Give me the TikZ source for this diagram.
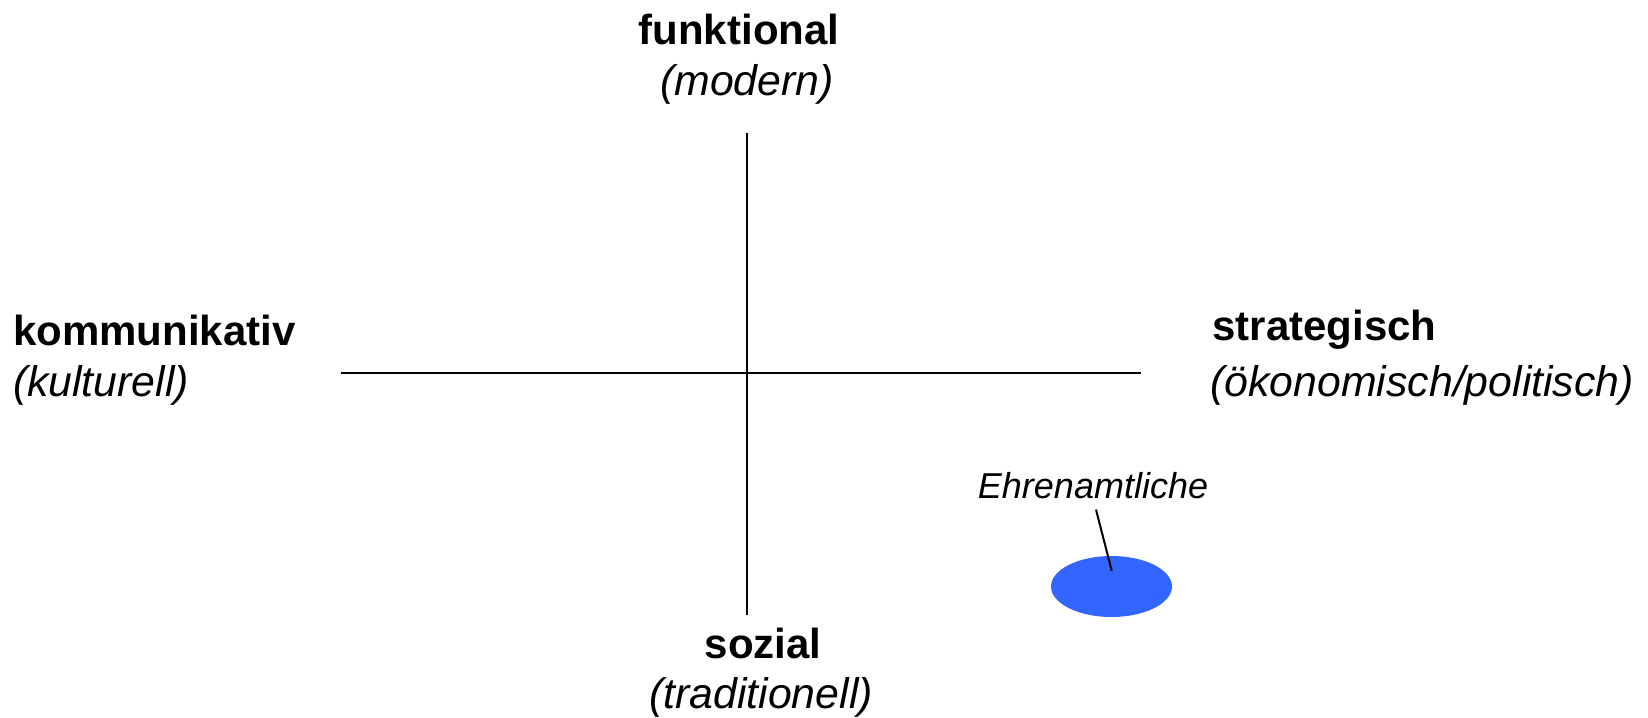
\documentclass[tikz,border=0pt]{standalone}
\usepackage{fontspec}
\setmainfont{Liberation Sans}
\usetikzlibrary{shapes}
\usetikzlibrary{positioning}
\definecolor{patchblue}{HTML}{3366FF}
\tikzstyle{pole} = [inner sep=0pt, font=\fontsize{21}{25}\selectfont\bfseries]
\tikzstyle{sub} = [inner sep=0pt, font=\fontsize{21.4}{25}\selectfont\itshape]
\tikzstyle{tag} = [inner sep=0pt, font=\fontsize{18}{22}\selectfont\itshape]
\tikzstyle{axis} = [line width=1pt, draw=black]
\tikzstyle{group} = [ellipse, fill=patchblue, draw=none, minimum width=60.5pt,
minimum height=30.5pt, inner sep=0pt]
\begin{document}
\begin{tikzpicture}[x=0.5pt,y=-0.5pt]
				\useasboundingbox (0,0) rectangle (1648,717);
				% axes
				\coordinate (n) at (747,133.5);
				\coordinate (s) at (747,615);
				\coordinate (w) at (340.5,373);
				\coordinate (e) at (1141,373);
				\draw[axis] (n) -- (s);
				\draw[axis] (w) -- (e);

				\node[pole] (fn) at (739,29.5) {funktional}; %
				\node[sub] (fna) at (747,84) {(modern)}; %
				\node[pole, anchor=west] (km) at (12.6,330) {kommunikativ}; %
				\node[sub, anchor=west] (kma) at (12.6,385) {(kulturell)}; %
				\node[pole, anchor=west] (st) at (1212,330) {strategisch}; %
				\node[sub, anchor=west] (sta) at (1210,385) {(ökonomisch/politisch)}; %
				\node[pole] (sz) at (763,643) {sozial}; %
				\node[sub] (sza) at (761,697) {(traditionell)}; %

				\node[group] (eh) at (1111.5,586.5) {}; %
				\node[tag] (eha) at (1093,486) {Ehrenamtliche}; %
				\coordinate (ehp) at (1111.7,570.7);
				\draw[line width=1pt] (eha.south) ++(3,10) -- (ehp);
            \end{tikzpicture}
\end{document}
